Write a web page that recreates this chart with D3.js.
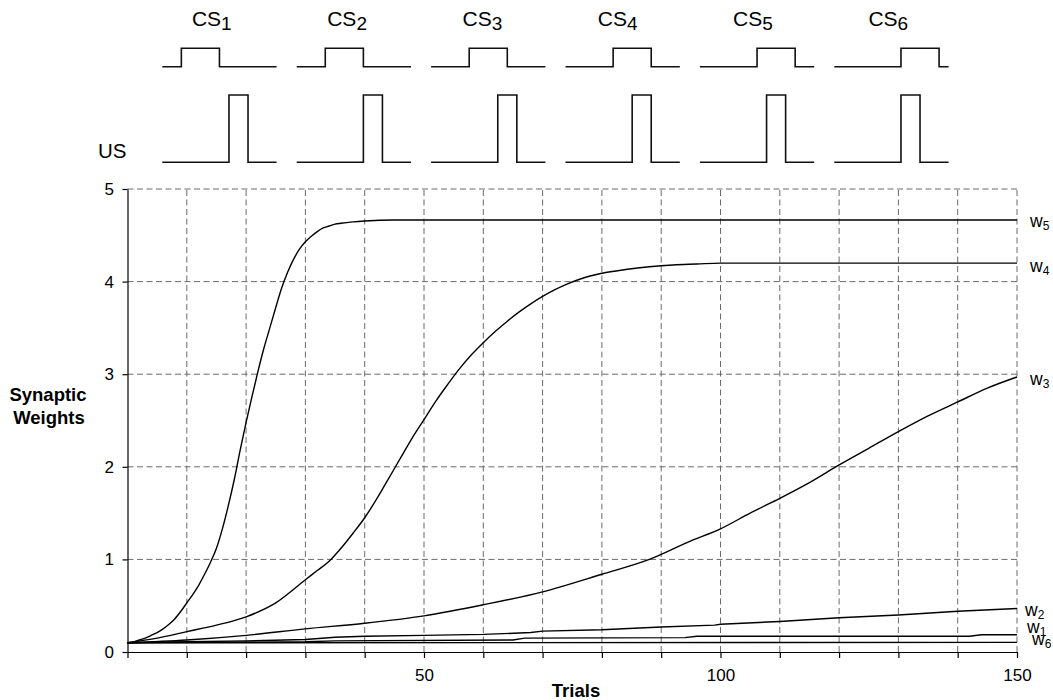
<!DOCTYPE html>
<html>
<head>
<meta charset="utf-8">
<script src="https://cdn.jsdelivr.net/npm/d3@7"></script>
<style>
  html, body { margin: 0; padding: 0; background: #fff; }
  svg { display: block; font-family: "Liberation Sans", Arial, sans-serif; }
</style>
</head>
<body>
<svg id="chart" width="1053" height="700"></svg>
<script>
// ---------- data ----------
const xTicks = [0,10,20,30,40,50,60,70,80,90,100,110,120,130,140,150];
const xTickLabels = [50,100,150];
const yTicks = [0,1,2,3,4,5];

const trialsW5 = [0,1,2,3,4,5,6,7,8,9,10,11,12,13,14,15,16,17,18,19,20,21,22,23,24,25,26,27,28,29,30,31,32,33,34,35,36,38,40,45,150];
const valuesW5 = [0.10,0.11,0.13,0.15,0.18,0.21,0.25,0.30,0.36,0.44,0.53,0.62,0.72,0.84,0.97,1.12,1.33,1.58,1.86,2.18,2.48,2.76,3.03,3.28,3.50,3.72,3.93,4.10,4.24,4.35,4.43,4.49,4.54,4.58,4.60,4.62,4.63,4.645,4.655,4.665,4.665];

const trialsW4 = [0,5,10,15,20,25,30,32,34,36,38,40,42,44,46,48,50,52,54,56,58,60,62,64,66,68,70,72,74,76,78,80,84,88,92,96,100,150];
const valuesW4 = [0.10,0.15,0.22,0.29,0.38,0.53,0.78,0.88,0.98,1.12,1.28,1.45,1.65,1.87,2.09,2.31,2.51,2.71,2.89,3.06,3.21,3.34,3.46,3.57,3.67,3.76,3.84,3.91,3.97,4.02,4.06,4.09,4.13,4.16,4.18,4.19,4.20,4.20];

const trialsW3 = [0,10,20,30,40,50,60,70,80,88,95,100,105,110,115,120,125,130,135,140,145,150];
const valuesW3 = [0.10,0.13,0.18,0.25,0.31,0.39,0.51,0.65,0.84,1.00,1.20,1.33,1.50,1.66,1.83,2.02,2.20,2.38,2.55,2.70,2.85,2.97];

const trialsW2 = [0,10,20,30,35,40,50,60,68,70,80,90,99,100,110,120,130,140,150];
const valuesW2 = [0.10,0.11,0.12,0.135,0.16,0.17,0.18,0.19,0.21,0.225,0.24,0.27,0.29,0.30,0.33,0.37,0.40,0.44,0.47];

const trialsW1 = [0,30,35,65,67,94,96,142,144,150];
const valuesW1 = [0.10,0.11,0.12,0.13,0.15,0.155,0.17,0.17,0.187,0.187];

const trialsW6 = [0,150];
const valuesW6 = [0.10,0.104];

const seriesNames = ["5","4","3","2","1","6"];

// stimulus timing (time units within each panel)
const csIndex = [1,2,3,4,5,6];
const csOnsets = [2,3,4,5,6,7];
const csDuration = 4;
const usOnset = 7;
const usDuration = 2;
const panelLength = 12;

// ---------- layout ----------
const svg = d3.select("#chart");
const X0 = 127.5, X1 = 1017, Y0 = 652, Y1 = 189;
const x = d3.scaleLinear().domain([0,150]).range([X0, X1]);
const y = d3.scaleLinear().domain([0,5]).range([Y0, Y1]);

// gridlines
const grid = svg.append("g");
grid.selectAll("line.v").data(xTicks.filter(d => d > 0)).join("line")
  .attr("x1", d => x(d)).attr("x2", d => x(d))
  .attr("y1", Y0).attr("y2", Y1)
  .attr("stroke", "#6a6a6a").attr("stroke-width", 1)
  .attr("stroke-dasharray", "6,3.5");
grid.selectAll("line.h").data(yTicks.filter(d => d > 0)).join("line")
  .attr("x1", X0).attr("x2", X1)
  .attr("y1", d => y(d)).attr("y2", d => y(d))
  .attr("stroke", "#6a6a6a").attr("stroke-width", 1)
  .attr("stroke-dasharray", "6,3.5");

// axes
const xAxis = d3.axisBottom(x).tickValues(xTicks).tickSizeInner(6).tickSizeOuter(0)
  .tickFormat(d => xTickLabels.includes(d) ? d : "");
const gx = svg.append("g").attr("transform", `translate(0,${Y0})`).call(xAxis);
gx.selectAll("text").attr("font-size", 17).attr("fill", "#000").attr("dy", "1.15em")
  .attr("font-family", "Liberation Sans, Arial, sans-serif");
gx.selectAll("line, path").attr("stroke", "#000").attr("stroke-width", 1.2);

const yAxis = d3.axisLeft(y).tickValues(yTicks).tickSizeInner(5).tickSizeOuter(0).tickFormat(d3.format("d"));
const gy = svg.append("g").attr("transform", `translate(${X0},0)`).call(yAxis);
gy.selectAll("text").attr("font-size", 17).attr("fill", "#000").attr("x", -13.5)
  .attr("font-family", "Liberation Sans, Arial, sans-serif");
gy.selectAll("line, path").attr("stroke", "#000").attr("stroke-width", 1.2);

// axis titles
svg.append("text").attr("x", 576).attr("y", 696.5).attr("text-anchor", "middle")
  .attr("font-size", 18.5).attr("font-weight", "bold").text("Trials");
const yt = svg.append("text").attr("text-anchor", "middle").attr("font-size", 18.5).attr("font-weight", "bold");
yt.append("tspan").attr("x", 48).attr("y", 401).text("Synaptic");
yt.append("tspan").attr("x", 49).attr("y", 423.5).text("Weights");

// curves
const series = [
  {name: "5", t: trialsW5, v: valuesW5, smooth: true},
  {name: "4", t: trialsW4, v: valuesW4, smooth: true},
  {name: "3", t: trialsW3, v: valuesW3, smooth: true},
  {name: "2", t: trialsW2, v: valuesW2, smooth: false},
  {name: "1", t: trialsW1, v: valuesW1, smooth: false},
  {name: "6", t: trialsW6, v: valuesW6, smooth: false}
];
const lineSmooth = d3.line().x(d => x(d[0])).y(d => y(d[1])).curve(d3.curveMonotoneX);
const lineStraight = d3.line().x(d => x(d[0])).y(d => y(d[1]));
svg.append("g").selectAll("path").data(series).join("path")
  .attr("d", s => (s.smooth ? lineSmooth : lineStraight)(s.t.map((t, i) => [t, s.v[i]])))
  .attr("fill", "none").attr("stroke", "#000").attr("stroke-width", 1.4);

// right-side labels (pixel nudges relative to series end)
const labelNudge = {"5": [13, 7], "4": [13, 9], "3": [13, 8], "2": [8, 8], "1": [10, -2], "6": [15, 3]};
const lbl = svg.append("g").selectAll("text").data(series).join("text")
  .attr("x", s => x(150) + labelNudge[s.name][0])
  .attr("y", s => y(s.v[s.v.length - 1]) + labelNudge[s.name][1])
  .attr("font-size", 17.5);
lbl.append("tspan").text("w");
lbl.append("tspan").attr("font-size", 12).attr("dy", 3).text(s => s.name);

// ---------- stimulus diagram ----------
const panel = d3.scaleLinear().domain([0, 6]).range([162.3, 162.3 + 6 * 134.4]);
const tScale = d3.scaleLinear().domain([0, panelLength]).range([0, 114.3]);
const csBase = 66.7, csHigh = 48.3, usBase = 162.3, usHigh = 95;

const pulsePath = (x0, on, dur, base, high) => {
  const p = d3.path();
  p.moveTo(x0, base);
  p.lineTo(x0 + tScale(on), base);
  p.lineTo(x0 + tScale(on), high);
  p.lineTo(x0 + tScale(on + dur), high);
  p.lineTo(x0 + tScale(on + dur), base);
  p.lineTo(x0 + tScale(panelLength), base);
  return p.toString();
};

const stim = svg.append("g");
stim.selectAll("path.cs").data(csOnsets).join("path")
  .attr("d", (on, i) => pulsePath(panel(i), on, csDuration, csBase, csHigh))
  .attr("fill", "none").attr("stroke", "#111").attr("stroke-width", 1.6);
stim.selectAll("path.us").data(csOnsets).join("path")
  .attr("d", (on, i) => pulsePath(panel(i), usOnset, usDuration, usBase, usHigh))
  .attr("fill", "none").attr("stroke", "#111").attr("stroke-width", 1.6);

const csl = stim.selectAll("text.cs").data(csIndex).join("text")
  .attr("x", (d, i) => panel(i) + 49.5 + i * 0.9).attr("y", 26)
  .attr("text-anchor", "middle").attr("font-size", 21);
csl.append("tspan").text("CS");
csl.append("tspan").attr("font-size", 19).attr("dy", 3.5).text(d => d);

stim.append("text").attr("x", 98).attr("y", 158).attr("font-size", 20.5).text("US");
</script>
</body>
</html>
